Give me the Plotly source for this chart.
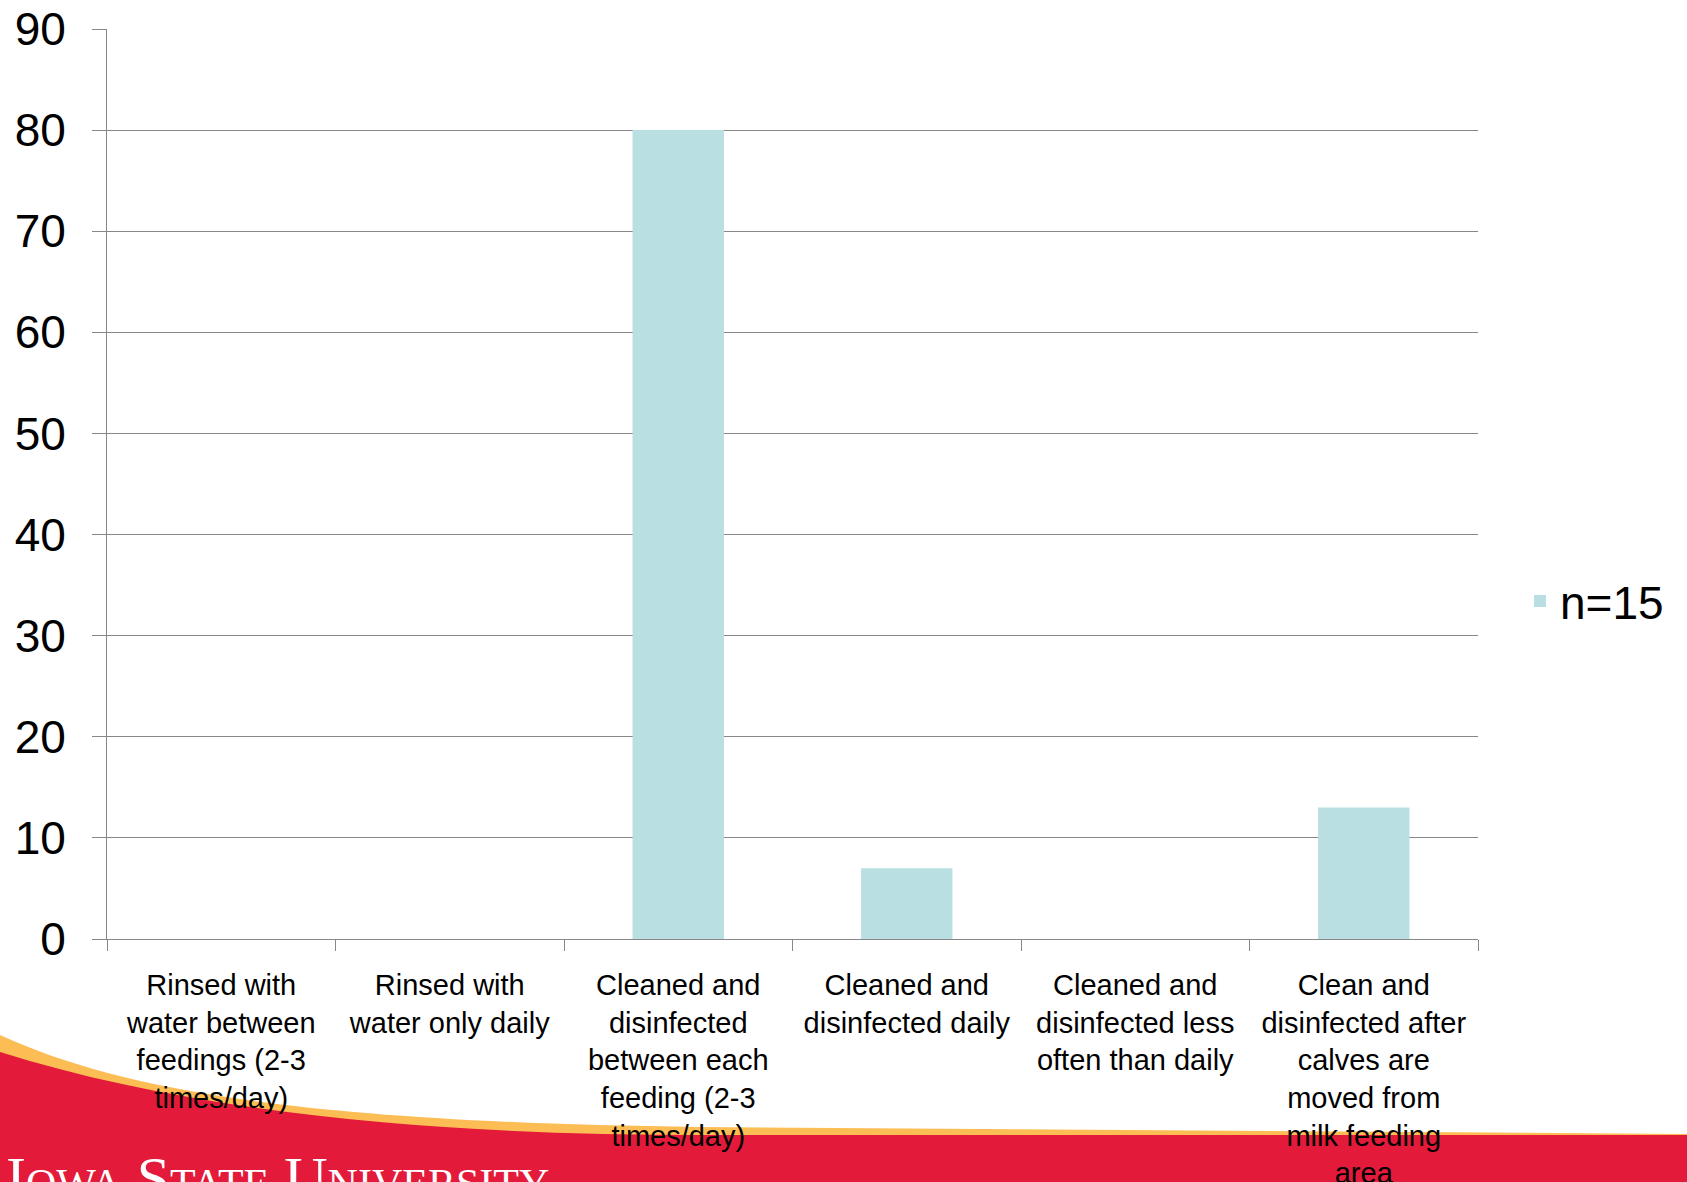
import plotly.graph_objects as go

# ---- data ----
categories = [
    "Rinsed with water between feedings (2-3 times/day)",
    "Rinsed with water only daily",
    "Cleaned and disinfected between each feeding (2-3 times/day)",
    "Cleaned and disinfected daily",
    "Cleaned and disinfected less often than daily",
    "Clean and disinfected after calves are moved from milk feeding area",
]
tick_labels = [
    "Rinsed with<br>water between<br>feedings (2-3<br>times/day)",
    "Rinsed with<br>water only daily",
    "Cleaned and<br>disinfected<br>between each<br>feeding (2-3<br>times/day)",
    "Cleaned and<br>disinfected daily",
    "Cleaned and<br>disinfected less<br>often than daily",
    "Clean and<br>disinfected after<br>calves are<br>moved from<br>milk feeding<br>area",
]
series_name = "n=15"
values = [0, 0, 80, 7, 0, 13]
y_ticks = [0, 10, 20, 30, 40, 50, 60, 70, 80, 90]

# ---- layout geometry (pixels) ----
W, H = 1687, 1182
L, R, T, B = 107, 209, 29, 243
PW, PH = W - L - R, H - T - B

def px(x):
    return (x - L) / PW

def py(y):
    return (H - B - y) / PH

FONT = "Liberation Sans, Arial, sans-serif"
GRID = "#878787"
BAR = "#B9DFE2"
RED = "#E31A3A"
GOLD = "#FDBD55"

fig = go.Figure()
fig.add_trace(go.Bar(
    x=categories, y=values, name=series_name,
    marker=dict(color=BAR, line=dict(width=0)),
    showlegend=True,
))

gold_path = (f"M {px(0)},{py(1035)} C {px(120)},{py(1090)} {px(300)},{py(1122)} {px(700)},{py(1127)} "
             f"L {px(W)},{py(1134)} L {px(W)},{py(H)} L {px(0)},{py(H)} Z")
red_path = (f"M {px(0)},{py(1052)} C {px(200)},{py(1115)} {px(450)},{py(1135)} {px(700)},{py(1135)} "
            f"L {px(W)},{py(1135)} L {px(W)},{py(H)} L {px(0)},{py(H)} Z")

fig.update_layout(
    width=W, height=H,
    margin=dict(l=L, r=R, t=T, b=B, pad=0, autoexpand=False),
    paper_bgcolor="white", plot_bgcolor="white",
    bargap=0.6,
    font=dict(family=FONT, color="black"),
    showlegend=True,
    legend=dict(x=px(1520), y=py(601), xanchor="left", yanchor="middle",
                font=dict(size=46, family=FONT, color="black"),
                bgcolor="rgba(0,0,0,0)"),
    xaxis=dict(
        type="category", automargin=False,
        tickmode="array", tickvals=categories, ticktext=tick_labels,
        tickangle=0,
        tickfont=dict(size=29, family=FONT, color="black"),
        ticklabelstandoff=20,
        showline=True, linecolor=GRID, linewidth=1,
        ticks="outside", tickson="boundaries", ticklen=11, tickcolor=GRID, tickwidth=1,
        showgrid=False, zeroline=False,
    ),
    yaxis=dict(
        range=[0, 90], automargin=False,
        tickmode="array", tickvals=y_ticks,
        tickfont=dict(size=46, family=FONT, color="black"),
        ticklabelstandoff=17,
        showline=True, linecolor=GRID, linewidth=1,
        ticks="outside", ticklen=14, tickcolor=GRID, tickwidth=1,
        showgrid=True, gridcolor=GRID, gridwidth=1,
        zeroline=False,
    ),
    shapes=[
        dict(type="path", xref="paper", yref="paper", path=gold_path,
             fillcolor=GOLD, line=dict(width=0), layer="below"),
        dict(type="path", xref="paper", yref="paper", path=red_path,
             fillcolor=RED, line=dict(width=0), layer="below"),
    ],
    annotations=[
        dict(text="Iowa State University", xref="paper", yref="paper",
             x=px(4), y=py(1143), xanchor="left", yanchor="top",
             showarrow=False,
             font=dict(family="Liberation Serif, Times New Roman, serif", size=60,
                       color="white", variant="small-caps")),
    ],
)

fig.write_html("out.html", config={"displayModeBar": False},
               post_script="document.body.style.margin='0';")
